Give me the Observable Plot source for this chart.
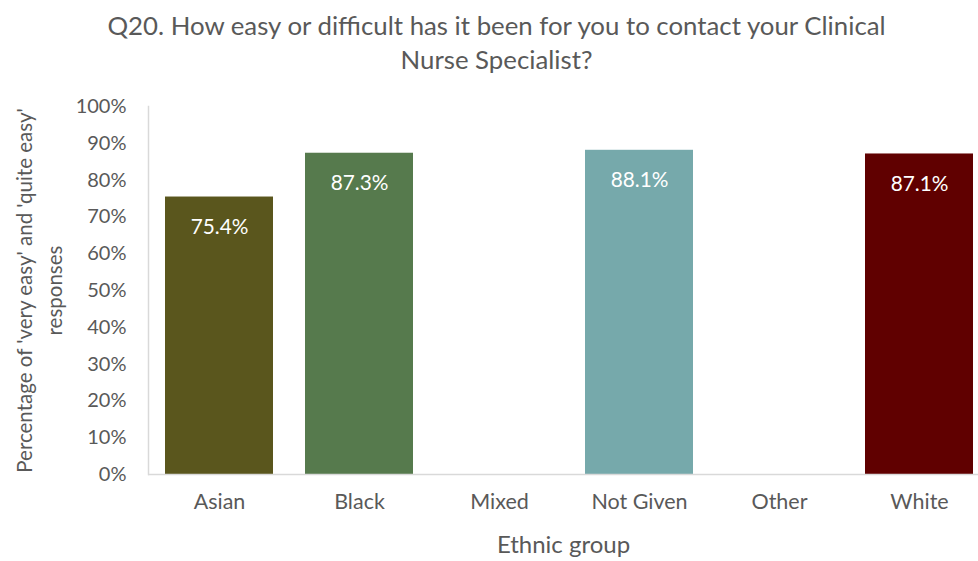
<!DOCTYPE html>
<html>
<head>
<meta charset="utf-8">
<script src="https://cdn.jsdelivr.net/npm/d3@7"></script>
<script src="https://cdn.jsdelivr.net/npm/@observablehq/plot@0.6"></script>
<style>
  html, body { margin: 0; padding: 0; background: #fff; }
  #chart svg { display: block; font-family: Lato, "Noto Sans", sans-serif; }
</style>
</head>
<body>
<div id="chart"></div>
<script>
const titleText = "Q20. How easy or difficult has it been for you to contact your Clinical\nNurse Specialist?";
const yLabelText = "Percentage of 'very easy' and 'quite easy'\nresponses";
const xLabelText = "Ethnic group";
const categories = ["Asian", "Black", "Mixed", "Not Given", "Other", "White"];
const values = [0.754, 0.873, null, 0.881, null, 0.871];
const barColors = ["#5a561d", "#567a4d", "#8a8a8a", "#76a9ab", "#999999", "#600000"];
const yTicks = [0, 0.1, 0.2, 0.3, 0.4, 0.5, 0.6, 0.7, 0.8, 0.9, 1.0];

const data = categories.map((c, i) => ({category: c, value: values[i]})).filter(d => d.value != null);
const textColor = "#595959";

const chart = Plot.plot({
  width: 978,
  height: 561,
  marginLeft: 148,
  marginRight: 0,
  marginTop: 106,
  marginBottom: 87,
  style: {color: textColor, background: "#fff", fontFamily: "Lato, 'Noto Sans', sans-serif"},
  x: {domain: categories, range: [149, 989], paddingInner: 0.229, paddingOuter: 0.1145, label: null},
  y: {domain: [0, 1], label: null},
  color: {domain: categories, range: barColors},
  marks: [
    Plot.barY(data, {x: "category", y: "value", fill: "category"}),
    Plot.frame({anchor: "left", stroke: "#d9d9d9", strokeWidth: 1.5}),
    Plot.ruleY([0], {stroke: "#d9d9d9", strokeWidth: 1.5}),
    Plot.axisY({ticks: yTicks, tickFormat: d3.format(".0%"), tickSize: 0, tickPadding: 22, fontSize: 20, label: null, fill: textColor}),
    Plot.axisX({tickSize: 0, tickPadding: 19, fontSize: 21.5, label: null, fill: textColor}),
    Plot.text(data, {x: "category", y: "value", text: d => (d.value * 100).toFixed(1) + "%", dy: 30, fill: "white", fontSize: 20.8}),
    Plot.text([titleText], {frameAnchor: "top", dx: -67, dy: -65, lineAnchor: "middle", textAnchor: "middle", fontSize: 25.8, lineHeight: 1.32, fill: textColor}),
    Plot.text([yLabelText], {frameAnchor: "left", dx: -111, textAnchor: "middle", lineAnchor: "middle", rotate: -90, fontSize: 20.5, lineHeight: 1.45, fill: textColor}),
    Plot.text([xLabelText], {frameAnchor: "bottom", dx: 0, dy: 71, lineAnchor: "middle", textAnchor: "middle", fontSize: 24, fill: textColor})
  ]
});
document.getElementById("chart").appendChild(chart);
</script>
</body>
</html>
